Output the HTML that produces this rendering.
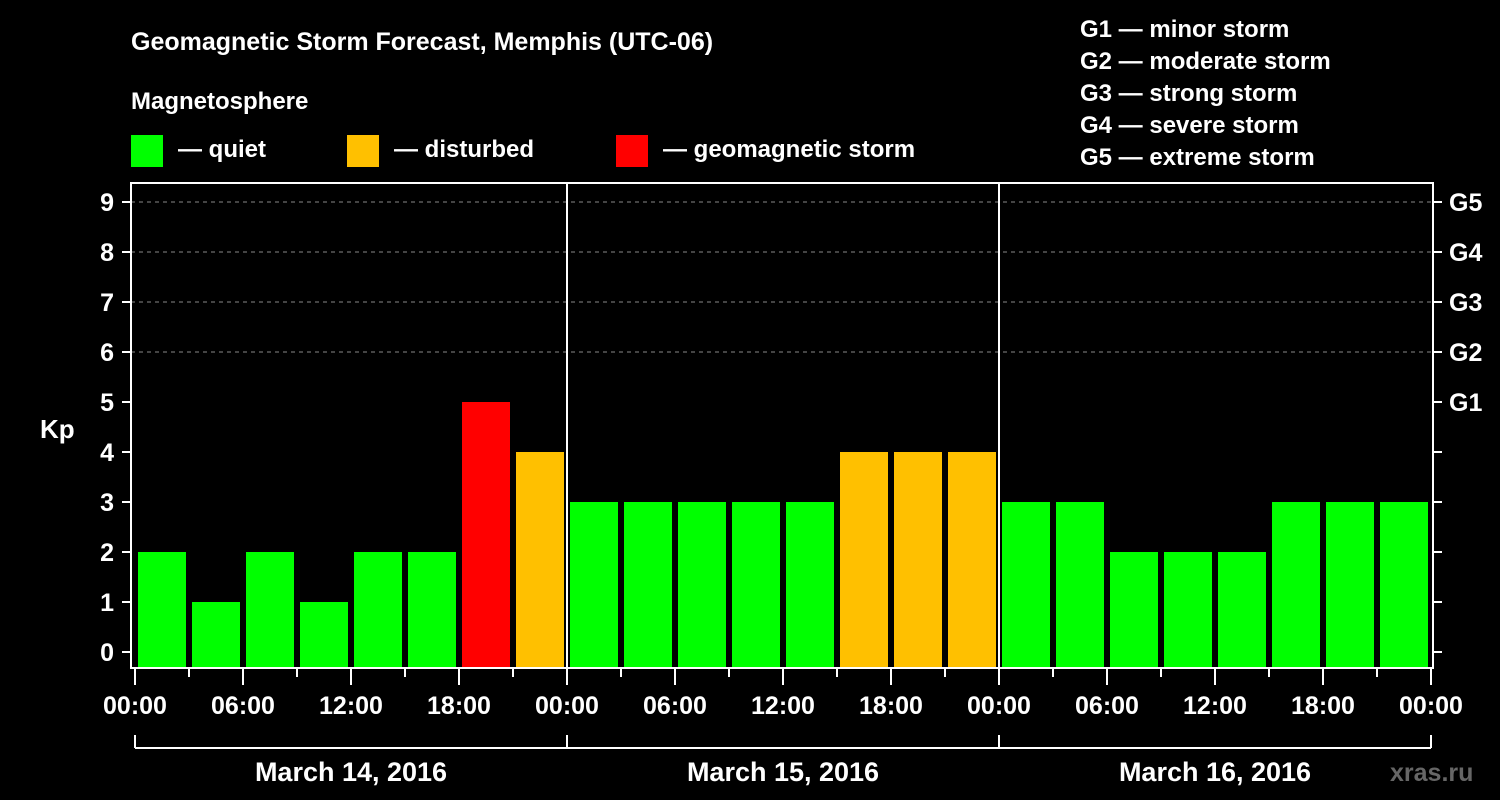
<!DOCTYPE html>
<html><head><meta charset="utf-8"><style>
html,body{margin:0;padding:0;background:#000;}
svg{display:block;font-family:"Liberation Sans",Arial,sans-serif;font-weight:bold;}
</style></head><body>
<svg id="chart" width="1500" height="800" viewBox="0 0 1500 800">
<text x="131" y="50" fill="#fff" font-size="25">Geomagnetic Storm Forecast, Memphis (UTC-06)</text>
<text x="131" y="109" fill="#fff" font-size="24">Magnetosphere</text>
<rect x="131" y="135" width="32" height="32" fill="#00ff00"/>
<text x="178" y="157" fill="#fff" font-size="24">— quiet</text>
<rect x="347" y="135" width="32" height="32" fill="#ffc000"/>
<text x="394" y="157" fill="#fff" font-size="24">— disturbed</text>
<rect x="616" y="135" width="32" height="32" fill="#ff0000"/>
<text x="663" y="157" fill="#fff" font-size="24">— geomagnetic storm</text>
<g fill="#fff" font-size="24">
<text x="1080" y="37">G1 — minor storm</text>
<text x="1080" y="69">G2 — moderate storm</text>
<text x="1080" y="101">G3 — strong storm</text>
<text x="1080" y="133">G4 — severe storm</text>
<text x="1080" y="165">G5 — extreme storm</text>
</g>
<text x="40" y="438" fill="#fff" font-size="26">Kp</text>
<text x="1390" y="781" fill="#666" font-size="25">xras.ru</text>
<g id="plot"></g>
</svg>
<script>
const kpValues=[2,1,2,1,2,2,5,4, 3,3,3,3,3,4,4,4, 3,3,2,2,2,3,3,3];
const dayLabels=["March 14, 2016","March 15, 2016","March 16, 2016"];
const hourLabels=["00:00","06:00","12:00","18:00"];
const gLabels=["G1","G2","G3","G4","G5"];
const NS="http://www.w3.org/2000/svg";
const g=document.getElementById('plot');
const x0=135,slot=54,y0=652,unit=50,base=668;
const xs=i=>x0+i*slot;
const ys=v=>y0-v*unit;
function mk(t,a,p){const e=document.createElementNS(NS,t);for(const k in a)e.setAttribute(k,a[k]);(p||g).appendChild(e);return e;}
function col(v){return v>=5?"#ff0000":v>=4?"#ffc000":"#00ff00";}
// grid
for(let v=6;v<=9;v++){const l=mk('line',{x1:131,x2:1433,y1:ys(v),y2:ys(v),stroke:'#888','stroke-width':1,'stroke-dasharray':'4,4'});

}
// bars
kpValues.forEach((v,i)=>{const r=mk('rect',{x:xs(i)+3,y:ys(v),width:48,height:base-ys(v),fill:col(v)});

});
// frame
const fr=mk('rect',{x:131,y:183,width:1302,height:485,fill:'none',stroke:'#fff','stroke-width':2});


for(let d=1;d<3;d++){const l=mk('line',{x1:xs(d*8),x2:xs(d*8),y1:183,y2:668,stroke:'#fff','stroke-width':2});

}
// y ticks & labels
for(let v=0;v<=9;v++){
mk('line',{x1:122,x2:131,y1:ys(v),y2:ys(v),stroke:'#fff','stroke-width':2});
mk('line',{x1:1433,x2:1442,y1:ys(v),y2:ys(v),stroke:'#fff','stroke-width':2});
const t=mk('text',{x:114,y:ys(v)+9,fill:'#fff','font-size':25,'text-anchor':'end'});t.textContent=v;

}
gLabels.forEach((s,i)=>{const t=mk('text',{x:1449,y:ys(5+i)+9,fill:'#fff','font-size':25});t.textContent=s;

});
// x ticks
for(let i=0;i<=24;i++){const major=i%2==0;mk('line',{x1:xs(i),x2:xs(i),y1:668,y2:major?685:677,stroke:'#fff','stroke-width':2});
if(major){const t=mk('text',{x:xs(i),y:714,fill:'#fff','font-size':25,'text-anchor':'middle'});t.textContent=hourLabels[(i/2)%4];

}}
// day brackets
mk('line',{x1:xs(0),x2:xs(24),y1:748,y2:748,stroke:'#fff','stroke-width':2});
for(let d=0;d<=3;d++)mk('line',{x1:xs(d*8),x2:xs(d*8),y1:735,y2:748,stroke:'#fff','stroke-width':2});
dayLabels.forEach((s,d)=>{const t=mk('text',{x:xs(d*8+4),y:781,fill:'#fff','font-size':27,'text-anchor':'middle'});t.textContent=s;

});
</script>
</body></html>
